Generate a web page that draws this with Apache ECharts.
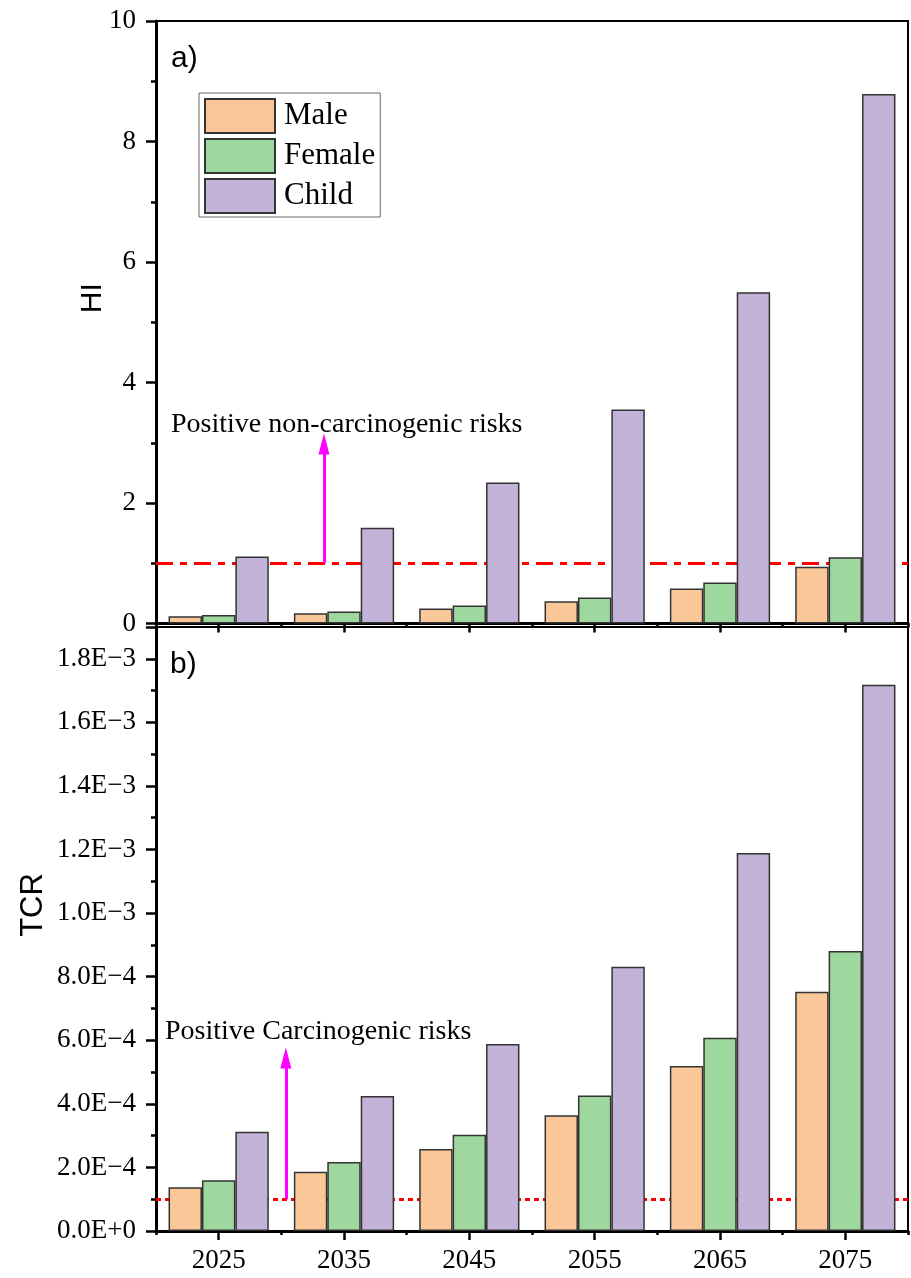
<!DOCTYPE html>
<html>
<head>
<meta charset="utf-8">
<script src="https://cdn.jsdelivr.net/npm/echarts@6/dist/echarts.min.js"></script>
<style>
  html, body { margin: 0; padding: 0; background: #fff; }
  #chart { width: 911px; height: 1278px; }
</style>
</head>
<body>
<div id="chart"></div>
<script>
// Projection years
const years = ['2025', '2035', '2045', '2055', '2065', '2075'];

// Hazard index (HI)
const hiMale   = [0.12, 0.17, 0.25, 0.37, 0.58, 0.94];
const hiFemale = [0.14, 0.20, 0.30, 0.43, 0.68, 1.10];
const hiChild  = [1.11, 1.59, 2.34, 3.55, 5.50, 8.79];

// Total carcinogenic risk (TCR)
const tcrMale   = [1.38e-4, 1.86e-4, 2.58e-4, 3.64e-4, 5.19e-4, 7.53e-4];
const tcrFemale = [1.60e-4, 2.17e-4, 3.03e-4, 4.26e-4, 6.08e-4, 8.81e-4];
const tcrChild  = [3.12e-4, 4.25e-4, 5.88e-4, 8.31e-4, 1.189e-3, 1.718e-3];

// Risk thresholds
const hiLimit = 1;
const tcrLimit = 1e-4;

// Arrow annotations: [position in category bands, value at arrow tip]
const hiArrow = [1.34, 2.98];
const tcrArrow = [1.036, 5.44e-4];

const groupNames = ['Male', 'Female', 'Child'];
const colors = ['#FAC898', '#9FD89E', '#C3B3D8'];

const serif = 'Liberation Serif';
const sans = 'Liberation Sans';

function sciLabel(v) {
  const k = v / 2e-4;
  if (Math.abs(k - Math.round(k)) > 1e-6) return '';
  return v.toExponential(1).replace('e', 'E').replace('-', '\u2212');
}

const axisLineStyle = { color: '#000', width: 3 };

function bandAxes(gridIndex, showLabels) {
  return [
    {
      type: 'category', gridIndex, position: 'bottom', data: years, boundaryGap: true,
      axisLine: { show: true, lineStyle: axisLineStyle },
      axisTick: { show: true, alignWithLabel: true, inside: false, length: 9, lineStyle: { color: '#000', width: 2.5 } },
      axisLabel: { show: showLabels, fontFamily: serif, fontSize: 27, color: '#000', margin: 16 },
      splitLine: { show: false }
    },
    {
      type: 'category', gridIndex, position: 'bottom', data: years, boundaryGap: true,
      axisLine: { show: false },
      axisTick: { show: true, inside: false, length: 4, lineStyle: { color: '#000', width: 2.5 } },
      axisLabel: { show: false },
      splitLine: { show: false }
    },
    {
      // band-unit axis for annotation placement
      type: 'value', gridIndex, position: 'bottom', min: 0, max: 6, show: false
    }
  ];
}

function barSeries(name, data, i, xi, yi) {
  return {
    name, type: 'bar', data, xAxisIndex: xi, yAxisIndex: yi, z: 3,
    barGap: '0%', barCategoryGap: '20%',
    itemStyle: { color: colors[i], borderColor: '#333', borderWidth: 1.5 },
    emphasis: { disabled: true }
  };
}

function guideSeries(name, xi, yi, limit, arrow, dashType) {
  return {
    name, type: 'line', xAxisIndex: xi, yAxisIndex: yi, z: 1,
    data: [], symbol: 'none', silent: true,
    markLine: {
      silent: true, animation: false, z: 1,
      symbol: ['none', 'none'],
      label: { show: false },
      data: [
        [
          { coord: [0, limit], lineStyle: { color: '#FF0000', width: 3, type: dashType } },
          { coord: [6, limit] }
        ],
        [
          { coord: [arrow[0], limit], lineStyle: { color: '#FF00FF', width: 3, type: 'solid' } },
          { coord: [arrow[0], arrow[1]], symbol: 'triangle', symbolSize: [11, 21], itemStyle: { color: '#FF00FF' } }
        ]
      ]
    }
  };
}

const option = {
  animation: false,
  backgroundColor: '#fff',
  grid: [
    { left: 156, right: 3, top: 21, height: 602.5, show: true, borderColor: '#000', borderWidth: 2, backgroundColor: 'transparent' },
    { left: 156, right: 3, top: 627, height: 604, show: true, borderColor: '#000', borderWidth: 2, backgroundColor: 'transparent' }
  ],
  legend: {
    data: groupNames,
    orient: 'vertical',
    left: 199, top: 93,
    icon: 'rect',
    itemWidth: 70, itemHeight: 34, itemGap: 4,
    padding: [5, 5, 3, 5],
    borderColor: '#666', borderWidth: 1,
    backgroundColor: '#fff',
    textStyle: { fontFamily: serif, fontSize: 31, color: '#000', padding: [0, 0, 0, 4], lineHeight: 34 },
    selectedMode: false
  },
  xAxis: [...bandAxes(0, false), ...bandAxes(1, true)],
  yAxis: [
    {
      type: 'value', gridIndex: 0, position: 'left', min: 0, max: 10, interval: 2,
      name: 'HI', nameLocation: 'middle', nameRotate: 90, nameGap: 48, nameMoveOverlap: false,
      nameTextStyle: { fontFamily: sans, fontSize: 30, color: '#000', padding: [0, 0, 0, 48] },
      axisLine: { show: true, lineStyle: axisLineStyle },
      axisTick: { show: true, inside: false, length: 10, lineStyle: { color: '#000', width: 2.5 } },
      minorTick: { show: true, splitNumber: 2, length: 5, lineStyle: { color: '#000', width: 2.5 } },
      axisLabel: { fontFamily: serif, fontSize: 27, color: '#000', margin: 20 },
      splitLine: { show: false }
    },
    {
      type: 'value', gridIndex: 1, position: 'left', min: 0, max: 1.9e-3, interval: 2e-4,
      name: 'TCR', nameLocation: 'middle', nameRotate: 90, nameGap: 107, nameMoveOverlap: false,
      nameTextStyle: { fontFamily: sans, fontSize: 31, color: '#000', padding: [0, 0, 0, 48] },
      axisLine: { show: true, lineStyle: axisLineStyle },
      axisTick: { show: true, inside: false, length: 10, lineStyle: { color: '#000', width: 2.5 } },
      axisLabel: { fontFamily: serif, fontSize: 27, color: '#000', margin: 20, formatter: sciLabel },
      splitLine: { show: false }
    },
    {
      // minor ticks every 1E-4
      type: 'value', gridIndex: 1, position: 'left', offset: 0, min: 0, max: 1.9e-3, interval: 1e-4,
      axisLine: { show: false },
      axisTick: { show: true, inside: false, length: 5, lineStyle: { color: '#000', width: 2.5 } },
      axisLabel: { show: false },
      splitLine: { show: false }
    }
  ],
  series: [
    barSeries('Male', hiMale, 0, 0, 0),
    barSeries('Female', hiFemale, 1, 0, 0),
    barSeries('Child', hiChild, 2, 0, 0),
    barSeries('Male', tcrMale, 0, 3, 1),
    barSeries('Female', tcrFemale, 1, 3, 1),
    barSeries('Child', tcrChild, 2, 3, 1),
    guideSeries('hi-threshold', 2, 0, hiLimit, hiArrow, [17, 7, 7, 7]),
    guideSeries('tcr-threshold', 5, 1, tcrLimit, tcrArrow, [5, 4])
  ],
  graphic: [
    { type: 'text', left: 171, top: 44, style: { text: 'a)', font: '30px "Liberation Sans"', fill: '#000' } },
    { type: 'text', left: 170, top: 650, style: { text: 'b)', font: '30px "Liberation Sans"', fill: '#000' } },
    { type: 'text', x: 171, y: 424.5, style: { text: 'Positive non-carcinogenic risks', font: '28px "Liberation Serif"', fill: '#000', verticalAlign: 'middle', align: 'left' } },
    { type: 'text', x: 165, y: 1032, style: { text: 'Positive Carcinogenic risks', font: '28px "Liberation Serif"', fill: '#000', verticalAlign: 'middle', align: 'left' } }
  ]
};

const chart = echarts.init(document.getElementById('chart'), null, { renderer: 'canvas' });
chart.setOption(option);
</script>
</body>
</html>
